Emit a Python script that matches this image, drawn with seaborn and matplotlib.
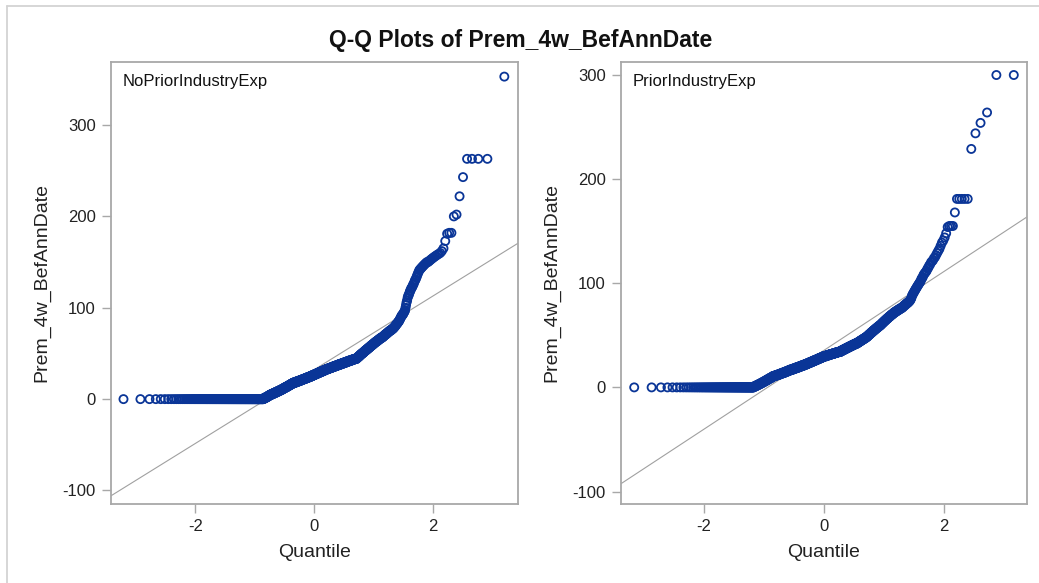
import numpy as np
import pandas as pd
import matplotlib
matplotlib.use("Agg")
import matplotlib.pyplot as plt
from matplotlib.lines import Line2D
import seaborn as sns
from statistics import NormalDist

# ---------------- data (sorted values and their frequencies) ----------
title_text = "Q-Q Plots of Prem_4w_BefAnnDate"
groups = ["NoPriorIndustryExp", "PriorIndustryExp"]
y_label = "Prem_4w_BefAnnDate"
x_label = "Quantile"

no_prior_values = [
    0, 1, 2, 3, 4, 5, 6, 7, 8, 9, 10, 11, 12, 13, 14, 15, 16, 17,
    18, 19, 20, 21, 22, 23, 24,
    25, 26, 27, 28, 29, 30, 31, 32,
    33, 34, 35, 36, 37, 38, 39,
    40, 41, 42, 43, 44,
    45, 46, 47, 48, 49, 50, 51, 52, 53, 54, 55, 56, 57,
    58, 59, 60, 61, 62, 63, 64, 65, 66, 67, 68,
    69, 70, 71, 72, 73, 74, 75, 76, 77,
    78, 79, 80, 81, 82, 83, 84, 85, 86,
    87, 88, 89, 90, 91, 92, 93, 94, 95, 96, 97,
    100, 103, 106, 108, 111,
    113, 114, 116, 118, 119, 121, 122, 123, 125, 126,
    128, 130, 131, 133, 135, 137, 139, 141,
    142, 143, 144, 145, 146, 147, 148, 149, 150, 151, 152,
    153, 154, 155, 156, 157, 158, 159, 160, 162,
    165, 173, 181, 182, 200, 202, 222, 243, 263, 353,
]
no_prior_counts = [
    186, 8, 8, 7, 7, 10, 10, 10, 10, 10, 10, 9, 9, 10, 9, 9, 9, 10,
    15, 15, 15, 14, 15, 14, 15,
    13, 13, 13, 13, 13, 13, 13, 13,
    15, 15, 14, 15, 14, 15, 14,
    14, 13, 14, 13, 14,
    5, 5, 5, 4, 5, 5, 5, 4, 5, 5, 4, 5, 4,
    4, 5, 4, 4, 4, 5, 4, 4, 4, 5, 4,
    3, 3, 4, 3, 3, 3, 4, 3, 3,
    2, 2, 2, 1, 2, 2, 1, 2, 1,
    1, 1, 1, 1, 1, 2, 1, 1, 1, 1, 1,
    1, 1, 1, 1, 1,
    1, 1, 1, 1, 1, 1, 1, 1, 1, 1,
    1, 1, 1, 1, 1, 1, 1, 1,
    1, 1, 1, 1, 1, 1, 1, 1, 2, 1, 1,
    1, 1, 1, 1, 1, 1, 1, 1, 1,
    1, 1, 1, 2, 1, 1, 1, 1, 4, 1,
]

prior_values = [
    0, 1, 2, 3, 4, 5, 6, 7, 8, 9, 10,
    11, 12, 13, 14, 15, 16,
    17, 18, 19, 20, 21, 22,
    23, 24, 25, 26, 27, 28, 29,
    30, 31, 32, 33, 34,
    35, 36, 37, 38, 39, 40, 41, 42,
    43, 44, 45, 46, 47, 48,
    49, 50, 51, 52, 53, 54, 55, 56, 57, 58, 59,
    60, 61, 62, 63, 64, 65, 66, 67, 68, 69, 70, 71,
    72, 73, 74, 75, 76, 77,
    78, 79, 80, 81, 82, 83,
    84, 85, 86, 88, 89, 90, 91, 92, 93,
    94, 95, 96, 97, 98, 99, 100, 101, 102, 104,
    105, 106, 108, 109, 110, 111, 112, 114, 115,
    117, 118, 120, 121, 122, 124, 125,
    127, 129, 131, 133,
    136, 139, 141, 144,
    148, 154,
    155, 168, 181, 229, 244, 254, 264, 300,
]
prior_counts = [
    96, 6, 6, 6, 6, 6, 6, 6, 6, 7, 6,
    11, 12, 11, 12, 11, 11,
    14, 13, 14, 13, 14, 13,
    12, 13, 12, 13, 12, 13, 12,
    18, 17, 18, 17, 18,
    10, 10, 10, 10, 10, 10, 10, 11,
    7, 7, 7, 7, 7, 6,
    5, 4, 5, 4, 5, 4, 5, 4, 5, 4, 5,
    4, 3, 4, 3, 4, 3, 4, 3, 4, 3, 4, 3,
    4, 4, 4, 4, 4, 3,
    2, 3, 2, 3, 2, 2,
    1, 1, 1, 1, 1, 1, 1, 1, 1,
    1, 1, 1, 1, 1, 1, 1, 1, 1, 1,
    1, 1, 1, 1, 1, 1, 1, 1, 1,
    1, 1, 1, 1, 1, 1, 1,
    1, 1, 1, 1,
    1, 1, 1, 1,
    1, 1,
    3, 1, 5, 1, 1, 1, 1, 2,
]

# reference normal line (mu, sigma)
ref_mu = [32.0, 35.6]
ref_sigma = [40.3, 37.9]

x_ticks = [-2, 0, 2]
y_ticks = [[-100, 0, 100, 200, 300], [-100, 0, 100, 200, 300]]

# ---------------- build Q-Q data ----------------
nd = NormalDist()


def qq_frame(values, counts, group):
    y = np.repeat(np.asarray(values, dtype=float), counts)
    n = len(y)
    q = np.array([nd.inv_cdf((i - 0.375) / (n + 0.25)) for i in range(1, n + 1)])
    return pd.DataFrame({"Quantile": q, "value": y, "group": group})


df = pd.concat([
    qq_frame(no_prior_values, no_prior_counts, groups[0]),
    qq_frame(prior_values, prior_counts, groups[1]),
], ignore_index=True)

# ---------------- style ----------------
sns.set_theme(style="white")
plt.rcParams["font.family"] = ["Liberation Sans", "DejaVu Sans"]

W, H = 1039, 583
fig = plt.figure(figsize=(W / 100, H / 100), dpi=100)
fig.patch.set_facecolor("white")

# outer light frame (top and left edges)
fig.add_artist(Line2D([7 / W, 1.0], [1 - 6 / H, 1 - 6 / H], transform=fig.transFigure,
                      color="#d3d3d3", lw=1.3))
fig.add_artist(Line2D([7 / W, 7 / W], [0.0, 1 - 6 / H], transform=fig.transFigure,
                      color="#d3d3d3", lw=1.3))

fig.text(521 / W, 1 - 47 / H, title_text, ha="center", va="baseline",
         fontsize=16.5, fontweight="bold", color="#111111")

axes_boxes = [
    (111, 62, 518, 504),
    (621, 62, 1027, 504),
]
xlims = [(-3.42, 3.44), (-3.38, 3.38)]
ylims = [(-114.8, 369.0), (-112.0, 312.5)]

marker_color = "#0a3597"
spine_color = "#a8a8a8"

for k, g in enumerate(groups):
    x0, y0, x1, y1 = axes_boxes[k]
    ax = fig.add_axes([x0 / W, 1 - y1 / H, (x1 - x0) / W, (y1 - y0) / H])
    sub = df[df["group"] == g]
    sns.scatterplot(data=sub, x="Quantile", y="value", ax=ax, marker="o", s=34,
                    facecolor="none", edgecolor=marker_color, linewidth=1.3,
                    legend=False, zorder=3)
    ax.axline((0, ref_mu[k]), slope=ref_sigma[k], color="#a0a0a0", lw=0.8, zorder=2)

    ax.set_xlim(*xlims[k])
    ax.set_ylim(*ylims[k])
    ax.set_xticks(x_ticks)
    ax.set_yticks(y_ticks[k])
    ax.set_xticklabels([str(t) for t in x_ticks])
    ax.set_yticklabels([str(t) for t in y_ticks[k]])

    for s in ax.spines.values():
        s.set_color(spine_color)
        s.set_linewidth(1.3)
    ax.tick_params(axis="both", which="major", direction="out", length=6.5, width=1.0,
                   color=spine_color, labelsize=12, labelcolor="#222222", pad=4.5,
                   bottom=True, left=True)
    ax.set_xlabel(x_label, fontsize=14, color="#222222", labelpad=7)
    ax.set_ylabel(y_label, fontsize=14, color="#222222", labelpad=9)
    ax.text(0.0295, 0.9457, g, transform=ax.transAxes, ha="left", va="baseline",
            fontsize=12, color="#111111")

fig.savefig("out.png", dpi=100, facecolor="white")
